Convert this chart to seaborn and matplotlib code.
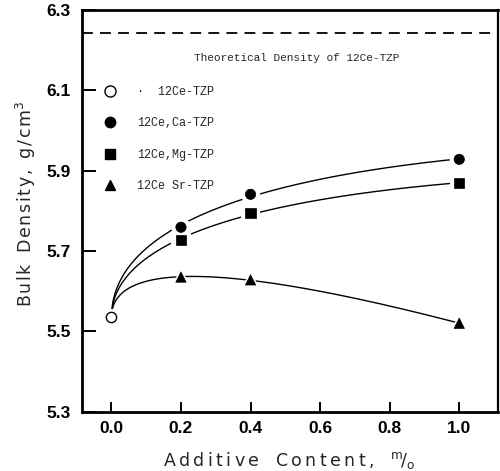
import numpy as np
import pandas as pd
import matplotlib
matplotlib.use("Agg")
import matplotlib.pyplot as plt
from matplotlib.lines import Line2D
import seaborn as sns

# Bulk density (g/cm^3) versus additive content (mol %)
content = [0.0, 0.2, 0.4, 1.0]
base_density = 5.535          # undoped 12Ce-TZP
ca_density = [5.759, 5.841, 5.928]
mg_density = [5.727, 5.795, 5.869]
sr_density = [5.635, 5.628, 5.520]
theoretical_density = 6.242

series_names = ["12Ce,Ca-TZP", "12Ce,Mg-TZP", "12Ce Sr-TZP"]
series_values = [ca_density, mg_density, sr_density]
series_markers = ["o", "s", "^"]

legend_labels = ["\u00b7  12Ce-TZP", "12Ce,Ca-TZP", "12Ce,Mg-TZP", "12Ce Sr-TZP"]
x_ticks = [0.0, 0.2, 0.4, 0.6, 0.8, 1.0]
y_ticks = [5.3, 5.5, 5.7, 5.9, 6.1, 6.3]


def spaced(word, gap="\u2009"):
    """Open up the letter spacing of a word."""
    return gap.join(word)


sns.set_theme(style="ticks")
plt.rcParams["font.family"] = ["DejaVu Sans"]

fig = plt.figure(figsize=(5.0, 4.71), dpi=100)
ax = fig.add_axes([0.163, 0.126, 0.832, 0.853])

# doped points table
rows = []
for name, vals in zip(series_names, series_values):
    for x, y in zip(content[1:], vals):
        rows.append({"content": x, "density": y, "series": name})
pts = pd.DataFrame(rows)

# smooth trend curves: least-squares fit in (1, sqrt(x), x) through the shared origin point
xs = np.linspace(0.0, 1.0, 300)
curve_rows = []
for name, vals in zip(series_names, series_values):
    x = np.array(content)
    y = np.array([base_density] + list(vals))
    A = np.column_stack([np.ones_like(x), np.sqrt(x), x])
    coef, *_ = np.linalg.lstsq(A, y, rcond=None)
    ys = coef[0] + coef[1] * np.sqrt(xs) + coef[2] * xs
    for a, b in zip(xs, ys):
        curve_rows.append({"content": a, "density": b, "series": name})
curves = pd.DataFrame(curve_rows)

sns.lineplot(data=curves, x="content", y="density", units="series",
             estimator=None, color="black", lw=1.0, ax=ax, legend=False)

ax.axhline(theoretical_density, color="black", lw=1.3, ls=(0, (6, 4)))

# white halos leave small gaps in the curves around each marker
marker_map = dict(zip(series_names, series_markers))
sns.scatterplot(data=pts, x="content", y="density", style="series",
                markers=marker_map, s=190, color="white", edgecolor="white",
                linewidth=0, ax=ax, legend=False, zorder=3)
sns.scatterplot(data=pts, x="content", y="density", style="series",
                markers=marker_map, s=55, color="black", edgecolor="black",
                linewidth=0.5, ax=ax, legend=False, zorder=4)
ax.scatter([0.0], [base_density], s=150, color="white", zorder=3, linewidths=0)
ax.scatter([0.0], [base_density], s=55, facecolor="white", edgecolor="black",
           linewidths=1.0, zorder=5)

ax.set_xlim(-0.086, 1.110)
ax.set_ylim(5.3, 6.3)
ax.set_xticks(x_ticks)
ax.set_yticks(y_ticks)
tick_font = {"fontsize": 12.5, "fontweight": "bold", "family": ["Liberation Sans", "DejaVu Sans"]}
ax.set_xticklabels([f"{v:.1f}" for v in x_ticks], **tick_font)
ax.set_yticklabels([f"{v:.1f}" for v in y_ticks], **tick_font)
ax.tick_params(axis="x", direction="in", length=7, width=1.4, pad=7, colors="black")
ax.tick_params(axis="y", direction="in", length=10, width=1.4, pad=8, colors="black")

for side in ["left", "bottom", "top"]:
    ax.spines[side].set_linewidth(2.0)
ax.spines["right"].set_linewidth(1.6)
for sp in ax.spines.values():
    sp.set_color("black")
    sp.set_visible(True)

xlabel = (spaced("Additive") + "   " + spaced("Content,")
          + "   $^{\\mathrm{m}}\\!/_{\\mathrm{o}}$")
ylabel = (spaced("Bulk", "\u200a") + "  " + spaced("Density,", "\u200a") + "  "
          + spaced("g/cm", "\u200a") + "$^3$")
ax.set_xlabel(xlabel, fontsize=12.5, labelpad=10)
ax.set_ylabel(ylabel, fontsize=12.5)
ax.yaxis.set_label_coords(-0.105, 0.517)

mono = ["Liberation Mono", "DejaVu Sans Mono"]
ax.text(0.518, 0.880, "Theoretical Density of 12Ce-TZP", transform=ax.transAxes,
        ha="center", va="center", fontsize=8, family=mono)

handles = [Line2D([], [], ls="none", marker="o", ms=8, mfc="white", mec="black", mew=1.0)]
for m in series_markers:
    handles.append(Line2D([], [], ls="none", marker=m, ms=7.5, mfc="black", mec="black"))
ax.legend(handles, legend_labels, loc="upper left", bbox_to_anchor=(0.054, 0.811),
          frameon=False, handlelength=1.0, handletextpad=1.8, labelspacing=1.65,
          borderpad=0, borderaxespad=0, prop={"family": mono, "size": 8.5})

fig.savefig("out.png", dpi=100, facecolor="white")
